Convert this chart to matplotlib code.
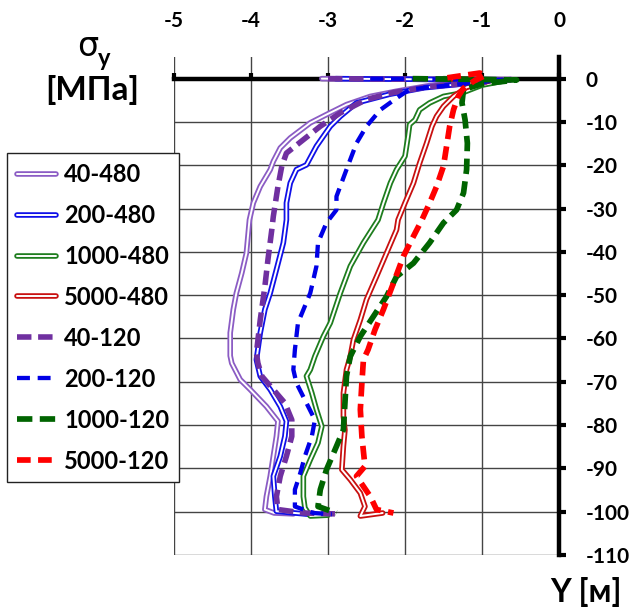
import matplotlib
matplotlib.use("Agg")
import matplotlib.pyplot as plt
import matplotlib.patheffects as pe

plt.rcParams['axes.unicode_minus'] = False
plt.rcParams['font.family'] = ['Lato', 'Noto Sans', 'DejaVu Sans']
plt.rcParams['font.weight'] = 'bold'

# stress sigma_y [MPa] (x) versus depth Y [m] (y)
x_40_480 = [-3.08, -0.62, -1.25, -1.68, -2.11, -2.45, -2.76, -3.02, -3.23, -3.49, -3.62, -3.71,
            -3.75, -3.88, -3.97, -4.02, -4.06, -4.12, -4.19, -4.23, -4.27, -4.27, -4.25, -4.14,
            -4.01, -3.80, -3.65, -3.67, -3.71, -3.75, -3.80, -3.82, -3.70, -3.45]
y_40_480 = [0, -0.2, -1.0, -1.6, -2.9, -4.1, -6.0, -8.3, -10.2, -13.7, -16.0, -19.1,
            -21.0, -24.9, -28.7, -32.6, -40.3, -44.9, -49.5, -53.3, -58.7, -64.0, -65.7, -69.5,
            -71.8, -75.7, -79.1, -82.6, -87.2, -91.8, -96.5, -99.5, -100.3, -100.5]

x_200_480 = [-2.90, -0.70, -1.30, -1.75, -2.20, -2.63, -2.84, -2.97, -3.15, -3.28, -3.41, -3.49,
             -3.54, -3.54, -3.58, -3.67, -3.75, -3.82, -3.88, -3.93, -3.88, -3.75, -3.62, -3.54,
             -3.56, -3.62, -3.71, -3.69, -3.67, -3.19]
y_200_480 = [0, -0.3, -1.3, -2.1, -3.6, -5.6, -8.7, -11.0, -15.6, -19.9, -21.0, -24.1,
             -28.7, -32.6, -37.9, -44.1, -49.5, -53.3, -58.7, -64.9, -68.7, -71.8, -75.7, -79.1,
             -82.6, -87.2, -91.8, -96.5, -99.9, -100.7]

x_1000_480 = [-1.50, -0.65, -1.00, -1.26, -1.50, -1.68, -1.81, -1.87, -1.94, -1.96, -2.00, -2.11,
              -2.19, -2.28, -2.35, -2.54, -2.71, -2.84, -2.97, -3.06, -3.17, -3.23, -3.28, -3.21,
              -3.15, -3.08, -3.13, -3.23, -3.32, -3.32, -3.30, -3.23, -3.00]
y_1000_480 = [0, -0.3, -1.5, -3.3, -4.1, -5.6, -7.2, -9.5, -10.6, -13.3, -17.9, -21.0,
              -24.1, -28.7, -32.6, -37.9, -43.3, -49.5, -56.4, -59.5, -64.1, -67.2, -68.7, -72.6,
              -76.4, -80.3, -84.1, -88.0, -91.8, -96.5, -99.1, -101.0, -100.8]

x_5000_480 = [-1.40, -0.90, -1.20, -1.37, -1.50, -1.59, -1.65, -1.72, -1.81, -1.89, -2.00, -2.09,
              -2.11, -2.24, -2.37, -2.50, -2.58, -2.67, -2.71, -2.76, -2.80, -2.80, -2.78, -2.80,
              -2.82, -2.71, -2.58, -2.52, -2.58, -2.29]
y_5000_480 = [0, -0.5, -2.0, -4.1, -6.4, -8.7, -11.0, -14.9, -19.5, -24.1, -28.7, -32.6,
              -34.9, -40.3, -45.7, -51.0, -55.7, -60.3, -64.1, -67.2, -72.6, -78.0, -81.1, -84.9,
              -90.3, -92.6, -95.7, -98.8, -101.0, -100.3]

x_40_120 = [-3.00, -0.60, -1.25, -1.70, -2.15, -2.50, -2.84, -3.10, -3.32, -3.54, -3.60, -3.65,
            -3.71, -3.73, -3.78, -3.82, -3.88, -3.93, -3.91, -3.86, -3.71, -3.56, -3.47, -3.47,
            -3.54, -3.62, -3.67, -3.65, -3.32, -2.91]
y_40_120 = [0, -0.3, -1.2, -1.9, -3.2, -4.8, -7.9, -11.0, -14.1, -17.2, -20.2, -24.9,
            -31.8, -34.9, -41.8, -48.0, -55.7, -63.4, -65.7, -68.7, -71.8, -74.9, -78.8, -82.6,
            -87.2, -91.8, -96.5, -99.5, -100.3, -100.5]

x_200_120 = [-2.45, -0.73, -1.30, -1.94, -2.11, -2.32, -2.50, -2.63, -2.76, -2.89, -2.89, -3.02,
             -3.13, -3.15, -3.23, -3.39, -3.43, -3.45, -3.41, -3.28, -3.17, -3.21, -3.30, -3.36,
             -3.43, -3.43, -3.19, -2.95]
y_200_120 = [0, -0.3, -1.3, -2.5, -4.5, -7.2, -11.0, -14.9, -21.0, -27.2, -30.3, -33.3,
             -37.9, -43.3, -49.5, -56.4, -62.6, -67.2, -70.3, -74.9, -78.8, -82.6, -87.2, -91.1,
             -94.9, -98.8, -100.3, -100.6]

x_1000_120 = [-1.90, -0.55, -1.00, -1.24, -1.26, -1.22, -1.19, -1.20, -1.24, -1.33, -1.46, -1.50,
              -1.68, -1.89, -2.11, -2.24, -2.41, -2.58, -2.71, -2.76, -2.78, -2.80, -2.89, -3.02,
              -3.10, -3.13, -2.89]
y_1000_120 = [0, -0.3, -1.2, -2.5, -5.6, -9.5, -14.9, -21.0, -26.4, -30.3, -32.6, -33.3,
              -37.9, -42.6, -45.7, -50.3, -54.9, -59.5, -64.1, -68.7, -74.9, -81.1, -84.9, -90.3,
              -94.9, -98.8, -100.3]

x_5000_120 = [-1.45, -1.03, -0.95, -1.10, -1.24, -1.31, -1.37, -1.42, -1.46, -1.50, -1.59, -1.68,
              -1.78, -1.89, -2.02, -2.15, -2.28, -2.39, -2.48, -2.54, -2.56, -2.58, -2.56, -2.52,
              -2.63, -2.45, -2.37, -2.15]
y_5000_120 = [0.2, 1.3, 0.8, -0.5, -2.2, -4.1, -7.2, -11.0, -15.6, -20.2, -24.9, -28.7,
              -32.6, -36.4, -41.0, -47.2, -53.3, -58.0, -62.6, -64.9, -70.3, -76.4, -82.6, -89.5,
              -91.8, -96.5, -99.5, -100.3]

x_ticks = [-5, -4, -3, -2, -1, 0]
y_ticks = [0, -10, -20, -30, -40, -50, -60, -70, -80, -90, -100, -110]

double_series = [
    ("40-480", x_40_480, y_40_480, "#8b5cc4"),
    ("200-480", x_200_480, y_200_480, "#1010e8"),
    ("1000-480", x_1000_480, y_1000_480, "#1e7d1e"),
    ("5000-480", x_5000_480, y_5000_480, "#c81010"),
]
dashed_series = [
    ("40-120", x_40_120, y_40_120, "#7030a0", 4.0, (2.6, 1.2)),
    ("200-120", x_200_120, y_200_120, "#0000e6", 3.1, (3.0, 1.8)),
    ("1000-120", x_1000_120, y_1000_120, "#006400", 4.1, (2.7, 1.3)),
    ("5000-120", x_5000_120, y_5000_120, "#ff0000", 4.1, (2.4, 1.3)),
]

fig = plt.figure(figsize=(6.34, 6.14), dpi=100)
ax = fig.add_axes([174 / 634, 1 - 555 / 614, (559 - 174) / 634, (555 - 57) / 614])
ax.set_xlim(-5, 0)
ax.set_ylim(-110, 5)

for label, xs, ys, col in double_series:
    ax.plot(xs, ys, color="white", lw=1.4, label=label, solid_capstyle="round",
            solid_joinstyle="round", zorder=3,
            path_effects=[pe.Stroke(linewidth=4.0, foreground=col, capstyle="round"), pe.Normal()])

for label, xs, ys, col, lw, dash in dashed_series:
    ax.plot(xs, ys, color=col, lw=lw, label=label, dashes=dash, dash_capstyle="butt", zorder=3)

# axes crossing at the origin: x axis along Y = 0, y axis along sigma = 0
for side in ("left", "bottom"):
    ax.spines[side].set_visible(False)
ax.spines["top"].set_position(("data", 0))
ax.spines["top"].set_linewidth(3.2)
ax.spines["right"].set_linewidth(3.2)
ax.spines["top"].set_zorder(2)
ax.spines["right"].set_zorder(2)

ax.xaxis.set_ticks_position("top")
ax.yaxis.set_ticks_position("right")
ax.set_xticks(x_ticks)
ax.set_xticklabels([str(v) for v in x_ticks])
ax.set_yticks(y_ticks)
ax.set_yticklabels([str(v) for v in y_ticks])
ax.tick_params(axis="x", direction="out", length=4, width=3, pad=30, labelsize=15)
ax.tick_params(axis="y", direction="out", length=5, width=3, pad=14, labelsize=15)
for t in ax.get_xticklabels() + ax.get_yticklabels():
    t.set_fontweight("bold")

ax.grid(True, color="#444444", lw=1.0)
ax.set_axisbelow(True)

leg = fig.legend(loc="upper left", bbox_to_anchor=(7 / 634, 1 - 153 / 614),
                 bbox_transform=fig.transFigure, borderaxespad=0,
                 prop={"size": 17, "weight": "bold"}, frameon=True, fancybox=False,
                 edgecolor="#222222", framealpha=1, handlelength=1.65, handletextpad=0.35,
                 labelspacing=0.76, borderpad=0.42)
leg.get_frame().set_linewidth(1.0)

fig.text(88 / 634, 1 - 47 / 614, "σ", fontsize=24, fontweight="normal",
         family=["DejaVu Sans"], ha="center", va="center")
fig.text(104 / 634, 1 - 58 / 614, "y", fontsize=17, fontweight="bold",
         ha="center", va="center")
fig.text(92 / 634, 1 - 90 / 614, "[МПа]", fontsize=24, fontweight="bold",
         ha="center", va="center")
fig.text(586 / 634, 1 - 592 / 614, "Y [м]", fontsize=23, fontweight="bold",
         ha="center", va="center")

fig.savefig("out.png", dpi=100)
